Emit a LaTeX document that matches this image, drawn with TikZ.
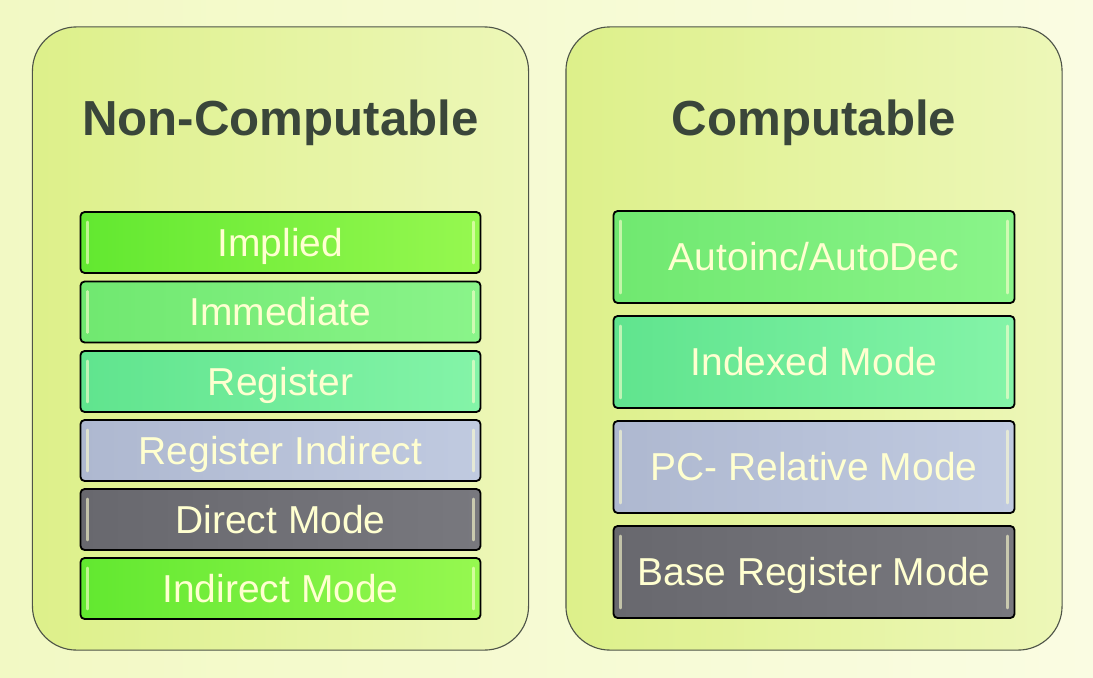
\documentclass[tikz,border=0pt]{standalone}
\usepackage{fontspec}
\setmainfont{Liberation Sans}
\usetikzlibrary{positioning}
\definecolor{cBackL}{RGB}{242,249,196}
\definecolor{cBackR}{RGB}{250,252,226}
\definecolor{cPanelL}{RGB}{221,240,138}
\definecolor{cPanelR}{RGB}{237,247,184}
\definecolor{cEdge}{RGB}{78,84,72}
\definecolor{cTitle}{RGB}{58,70,58}
\definecolor{cText}{RGB}{255,255,208}
\definecolor{cLimeL}{RGB}{98,232,48}
\definecolor{cLimeR}{RGB}{150,248,80}
\definecolor{cLeafL}{RGB}{112,232,112}
\definecolor{cLeafR}{RGB}{138,244,138}
\definecolor{cMintL}{RGB}{96,228,142}
\definecolor{cMintR}{RGB}{132,244,168}
\definecolor{cSteelL}{RGB}{174,184,208}
\definecolor{cSteelR}{RGB}{192,202,224}
\definecolor{cSlateL}{RGB}{104,104,110}
\definecolor{cSlateR}{RGB}{120,120,126}
\tikzset{
  %% outer category panels
  panel/.style={rectangle, rounded corners=1.1cm, draw=cEdge, line width=0.8pt,
                minimum width=12.4cm, minimum height=15.575cm, inner sep=0pt,
                left color=cPanelL, right color=cPanelR},
  heading/.style={font=\fontsize{35}{40}\selectfont\bfseries, text=cTitle},
  %% addressing mode buttons
  mode/.style={rectangle, rounded corners=3pt, draw=black, line width=1.3pt,
               text=cText, font=\fontsize{27.7}{30}\selectfont, inner sep=0pt,
               text height=21pt, text depth=1.2pt,
               path picture={
                 \draw[cText, opacity=0.6, line width=1.6pt, line cap=round]
                   ([xshift=5pt,yshift=7pt]path picture bounding box.south west) --
                   ([xshift=5pt,yshift=-7pt]path picture bounding box.north west)
                   ([xshift=-5pt,yshift=7pt]path picture bounding box.south east) --
                   ([xshift=-5pt,yshift=-7pt]path picture bounding box.north east);
               }},
  modeS/.style={mode, minimum width=10cm, minimum height=1.525cm},
  modeT/.style={mode, minimum width=10.025cm, minimum height=2.3cm},
  lime/.style={left color=cLimeL, right color=cLimeR},
  leaf/.style={left color=cLeafL, right color=cLeafR},
  mint/.style={left color=cMintL, right color=cMintR},
  steel/.style={left color=cSteelL, right color=cSteelR},
  slate/.style={left color=cSlateL, right color=cSlateR},
}

\begin{document}
\begin{tikzpicture}[x=0.025cm, y=-0.025cm]

%% ============================================================
%%  CANVAS
%% ============================================================
\useasboundingbox (0,0) rectangle (1093,678);
\shade[left color=cBackL, right color=cBackR] (0,0) rectangle (1093,678);

\def\Lx{280.5}
\def\Rx{814}

%% ----- Panels -----
\node[panel] (NCpanel) at (\Lx, 338.5) {};
\node[panel] (Cpanel)  at (\Rx, 338.5) {};

%% ----- Headings -----
\node[heading, anchor=base] (NCtitle) at (\Lx, 135) {Non-Computable};
\node[heading, anchor=base] (Ctitle)  at (\Rx, 135) {Computable};

%% ============================================================
%%  NON-COMPUTABLE MODES (left)
%% ============================================================
\node[modeS, lime]  (Implied)   at (\Lx, 242.5) {Implied};
\node[modeS, leaf]  (Immediate) at (\Lx, 312)   {Immediate};
\node[modeS, mint]  (Register)  at (\Lx, 381.5) {Register};
\node[modeS, steel] (RegInd)    at (\Lx, 450.5) {Register Indirect};
\node[modeS, slate] (Direct)    at (\Lx, 519.5) {Direct Mode};
\node[modeS, lime]  (Indirect)  at (\Lx, 588.5) {Indirect Mode};

%% ============================================================
%%  COMPUTABLE MODES (right)
%% ============================================================
\node[modeT, leaf]  (AutoInc)  at (\Rx, 257) {Autoinc/AutoDec};
\node[modeT, mint]  (Indexed)  at (\Rx, 362) {Indexed Mode};
\node[modeT, steel] (PCRel)    at (\Rx, 467) {PC- Relative Mode};
\node[modeT, slate] (BaseReg)  at (\Rx, 572) {Base Register Mode};

\end{tikzpicture}
\end{document}
